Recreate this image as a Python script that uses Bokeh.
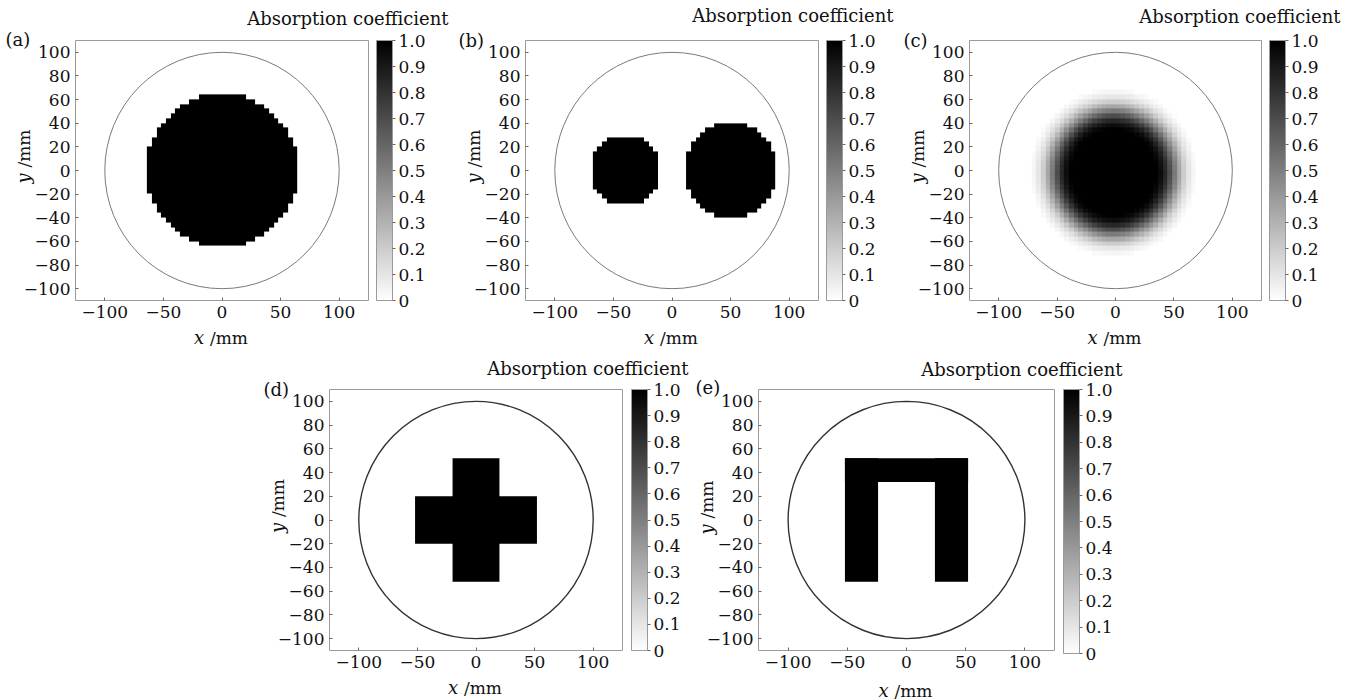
import numpy as np
from bokeh.plotting import figure
from bokeh.models import (ColorBar, LinearColorMapper, FixedTicker, Label, Spacer,
                          ColumnDataSource, CustomJSTickFormatter, LinearAxis, GridBox, Range1d)
from bokeh.layouts import row, column
from bokeh.palettes import Greys256
from bokeh.embed import file_html
from bokeh.resources import INLINE

FONT = "DejaVu Serif"

# ---------------- data ----------------
panel_tags = ["(a)", "(b)", "(c)", "(d)", "(e)"]
cbar_title = "Absorption coefficient"
x_var, y_var, axis_unit = "x", "y", "/mm"

x_ticks = [-100, -50, 0, 50, 100]
x_tick_labels = ["\u2212100", "\u221250", "0", "50", "100"]
y_ticks = [-100, -80, -60, -40, -20, 0, 20, 40, 60, 80, 100]
y_tick_labels = ["\u2212100", "\u221280", "\u221260", "\u221240", "\u221220", "0",
                 "20", "40", "60", "80", "100"]
cb_ticks = [0, 0.1, 0.2, 0.3, 0.4, 0.5, 0.6, 0.7, 0.8, 0.9, 1.0]
cb_tick_labels = ["0", "0.1", "0.2", "0.3", "0.4", "0.5", "0.6", "0.7", "0.8", "0.9", "1.0"]

domain_radius = 100          # boundary circle (mm)
cell_size = 4                # reconstruction pixel size (mm)

# (a) one homogeneous disc
a_disc_x = [0]
a_disc_y = [0]
a_disc_r = [65]
# (b) two discs
b_disc_x = [-40, 50]
b_disc_y = [0, 0]
b_disc_r = [30, 40]
# (c) smooth inclusion: radial absorption profile around its centre
c_center_x, c_center_y = -2, -2
c_profile_r = [0, 36, 40, 44, 48, 52, 56, 60, 64, 68, 70, 71]
c_profile_v = [1.0, 1.0, 0.95, 0.85, 0.7, 0.52, 0.35, 0.2, 0.1, 0.04, 0.02, 0.0]
# (d) cross (two rectangles)
d_left = [-20, -52]
d_right = [20, 52]
d_bottom = [-52, -20]
d_top = [52, 20]
d_value = [1.0, 1.0]
# (e) "Π" shape (three rectangles)
e_left = [-52, 24, -52]
e_right = [-24, 52, 52]
e_bottom = [-52, -52, 32]
e_top = [52, 52, 52]
e_value = [1.0, 1.0, 1.0]

# ---------------- build images ----------------
centers = np.arange(-domain_radius + cell_size / 2, domain_radius, cell_size)
GX, GY = np.meshgrid(centers, centers)


def disc_image(xs, ys, rs):
    img = np.zeros_like(GX)
    for cx, cy, r in zip(xs, ys, rs):
        img[(GX - cx) ** 2 + (GY - cy) ** 2 < r ** 2] = 1.0
    return img


img_a = disc_image(a_disc_x, a_disc_y, a_disc_r)
img_b = disc_image(b_disc_x, b_disc_y, b_disc_r)
img_c = np.interp(np.hypot(GX - c_center_x, GY - c_center_y), c_profile_r, c_profile_v)

UP = 6


def upsample(img):
    return np.kron(img, np.ones((UP, UP)))


pal = list(Greys256)
if pal[0].lower() == "#000000":
    pal = pal[::-1]


def tick_fmt(tv, tl):
    return CustomJSTickFormatter(args=dict(tv=tv, tl=tl), code="""
        for (let i = 0; i < tv.length; i++) {
            if (Math.abs(tv[i] - tick) < 1e-9) return tl[i];
        }
        return "";
    """)


# layout of the five panels (page origin, borders around the frame, text offsets)
specs = [
    dict(ox=0, oy=0, w=450, bl=75, br=82, bt=40, bb=50, img=img_a,
         tag=(-70, 5), title=(80, -16), circ="#7a7a7a", cw=1.0, gap=8),
    dict(ox=450, oy=0, w=450, bl=75, br=82, bt=40, bb=50, img=img_b,
         tag=(-67, 6), title=(75, -19), circ="#7a7a7a", cw=1.0, gap=8),
    dict(ox=900, oy=0, w=453, bl=69, br=92, bt=40, bb=50, img=img_c,
         tag=(-66, 6), title=(79, -18), circ="#7a7a7a", cw=1.0, gap=8),
    dict(ox=254, oy=350, w=436, bl=75, br=68, bt=39, bb=50,
         quads=(d_left, d_right, d_bottom, d_top, d_value),
         tag=(-66, 6), title=(66, -15), circ="#333333", cw=1.4, gap=9),
    dict(ox=690, oy=350, w=440, bl=68, br=76, bt=39, bb=47,
         quads=(e_left, e_right, e_bottom, e_top, e_value),
         tag=(-63, 4), title=(68, -14), circ="#333333", cw=1.4, gap=9),
]

H = 350
TOTAL_W, TOTAL_H = 1353, 700
XR = (-125, 125)
YR = (-110, 110)
TXT_SHIFT = 6   # compensation of the renderer's baseline placement

figs = []
for i, s in enumerate(specs):
    p = figure(width=s["w"], height=H, x_range=XR, y_range=YR,
               output_backend="svg", toolbar_location=None,
               min_border_left=s["bl"], min_border_right=s["br"],
               min_border_top=s["bt"], min_border_bottom=s["bb"])
    p.xgrid.visible = False
    p.ygrid.visible = False
    p.outline_line_color = "#9a9a9a"
    p.outline_line_width = 1

    mapper = LinearColorMapper(palette=pal, low=0, high=1)

    if "img" in s:
        p.image(image=[upsample(s["img"])], x=-domain_radius, y=-domain_radius,
                dw=2 * domain_radius, dh=2 * domain_radius, color_mapper=mapper)
    else:
        l, r, b, t, v = s["quads"]
        src = ColumnDataSource(dict(left=l, right=r, bottom=b, top=t, v=v))
        p.quad(left="left", right="right", bottom="bottom", top="top", source=src,
               fill_color={"field": "v", "transform": mapper}, line_color=None)

    p.ellipse(x=[0], y=[0], width=[2 * domain_radius], height=[2 * domain_radius],
              fill_color=None, line_color=s["circ"], line_width=s["cw"])

    for ax, tv, tl in ((p.xaxis, x_ticks, x_tick_labels), (p.yaxis, y_ticks, y_tick_labels)):
        ax.ticker = FixedTicker(ticks=tv)
        ax.formatter = tick_fmt(tv, tl)
        ax.axis_line_color = None
        ax.major_tick_in = 3
        ax.major_tick_out = 0
        ax.major_tick_line_color = "#666666"
        ax.minor_tick_line_color = None
        ax.major_label_text_font = FONT
        ax.major_label_text_font_size = "17px"
        ax.major_label_text_color = "#111111"
        ax.major_label_standoff = 5

    # invisible axis that only reserves the gap between frame and colour bar
    gap_axis = LinearAxis(ticker=FixedTicker(ticks=[0]), axis_line_color=None,
                          major_tick_in=0, major_tick_out=s["gap"],
                          minor_tick_in=0, minor_tick_out=0,
                          major_tick_line_color=None, minor_tick_line_color=None,
                          major_label_standoff=0, major_label_overrides={0: ""},
                          major_label_text_font_size="1px")
    p.add_layout(gap_axis, "right")

    frame_h = H - s["bt"] - s["bb"]
    cb = ColorBar(color_mapper=mapper, ticker=FixedTicker(ticks=cb_ticks),
                  formatter=tick_fmt(cb_ticks, cb_tick_labels),
                  width=16, height=frame_h, padding=0, margin=0,
                  location="top_left", label_standoff=3,
                  major_label_text_font=FONT, major_label_text_font_size="17px",
                  major_label_text_color="#111111",
                  bar_line_color="#9a9a9a", bar_line_width=1,
                  major_tick_in=0, major_tick_out=3, major_tick_line_color="#666666",
                  minor_tick_line_color=None, background_fill_color=None,
                  border_line_color=None)
    p.add_layout(cb, "right")
    figs.append(p)

plots = column(row(figs[0], figs[1], figs[2]),
               row(Spacer(width=254, height=H), figs[3], figs[4]))

# transparent overlay carrying the texts that sit outside the frames
ov = figure(width=TOTAL_W, height=TOTAL_H, x_range=Range1d(0, TOTAL_W),
            y_range=Range1d(TOTAL_H, 0), output_backend="svg", toolbar_location=None,
            min_border=0, x_axis_type=None, y_axis_type=None)
ov.outline_line_color = None
ov.background_fill_color = None
ov.border_fill_color = None

for i, s in enumerate(specs):
    L = s["ox"] + s["bl"]
    R = s["ox"] + s["w"] - s["br"]
    T = s["oy"] + s["bt"]
    B = s["oy"] + H - s["bb"]
    cx = (L + R) / 2
    cy = (T + B) / 2
    common = dict(text_font=FONT, text_baseline="alphabetic", text_color="#111111")
    ov.add_layout(Label(x=L + s["tag"][0], y=T + s["tag"][1] - TXT_SHIFT, text=panel_tags[i],
                        text_font_size="18px", text_align="left", **common))
    ov.add_layout(Label(x=R + s["title"][0], y=T + s["title"][1] - TXT_SHIFT, text=cbar_title,
                        text_font_size="18px", text_align="right", **common))
    ov.add_layout(Label(x=cx - 28, y=B + 43 - TXT_SHIFT, text=x_var, text_font_style="italic",
                        text_font_size="18px", text_align="left", **common))
    ov.add_layout(Label(x=cx - 12, y=B + 43 - TXT_SHIFT, text=axis_unit,
                        text_font_size="17px", text_align="left", **common))
    ov.add_layout(Label(x=L - 46 - TXT_SHIFT, y=cy + 13, text=y_var, angle=np.pi / 2,
                        text_font_style="italic", text_font_size="18px",
                        text_align="left", **common))
    ov.add_layout(Label(x=L - 46 - TXT_SHIFT, y=cy - 3, text=axis_unit, angle=np.pi / 2,
                        text_font_size="17px", text_align="left", **common))

grid = GridBox(children=[(plots, 0, 0), (ov, 0, 0)])

open("out.html", "w").write(file_html(grid, INLINE))
